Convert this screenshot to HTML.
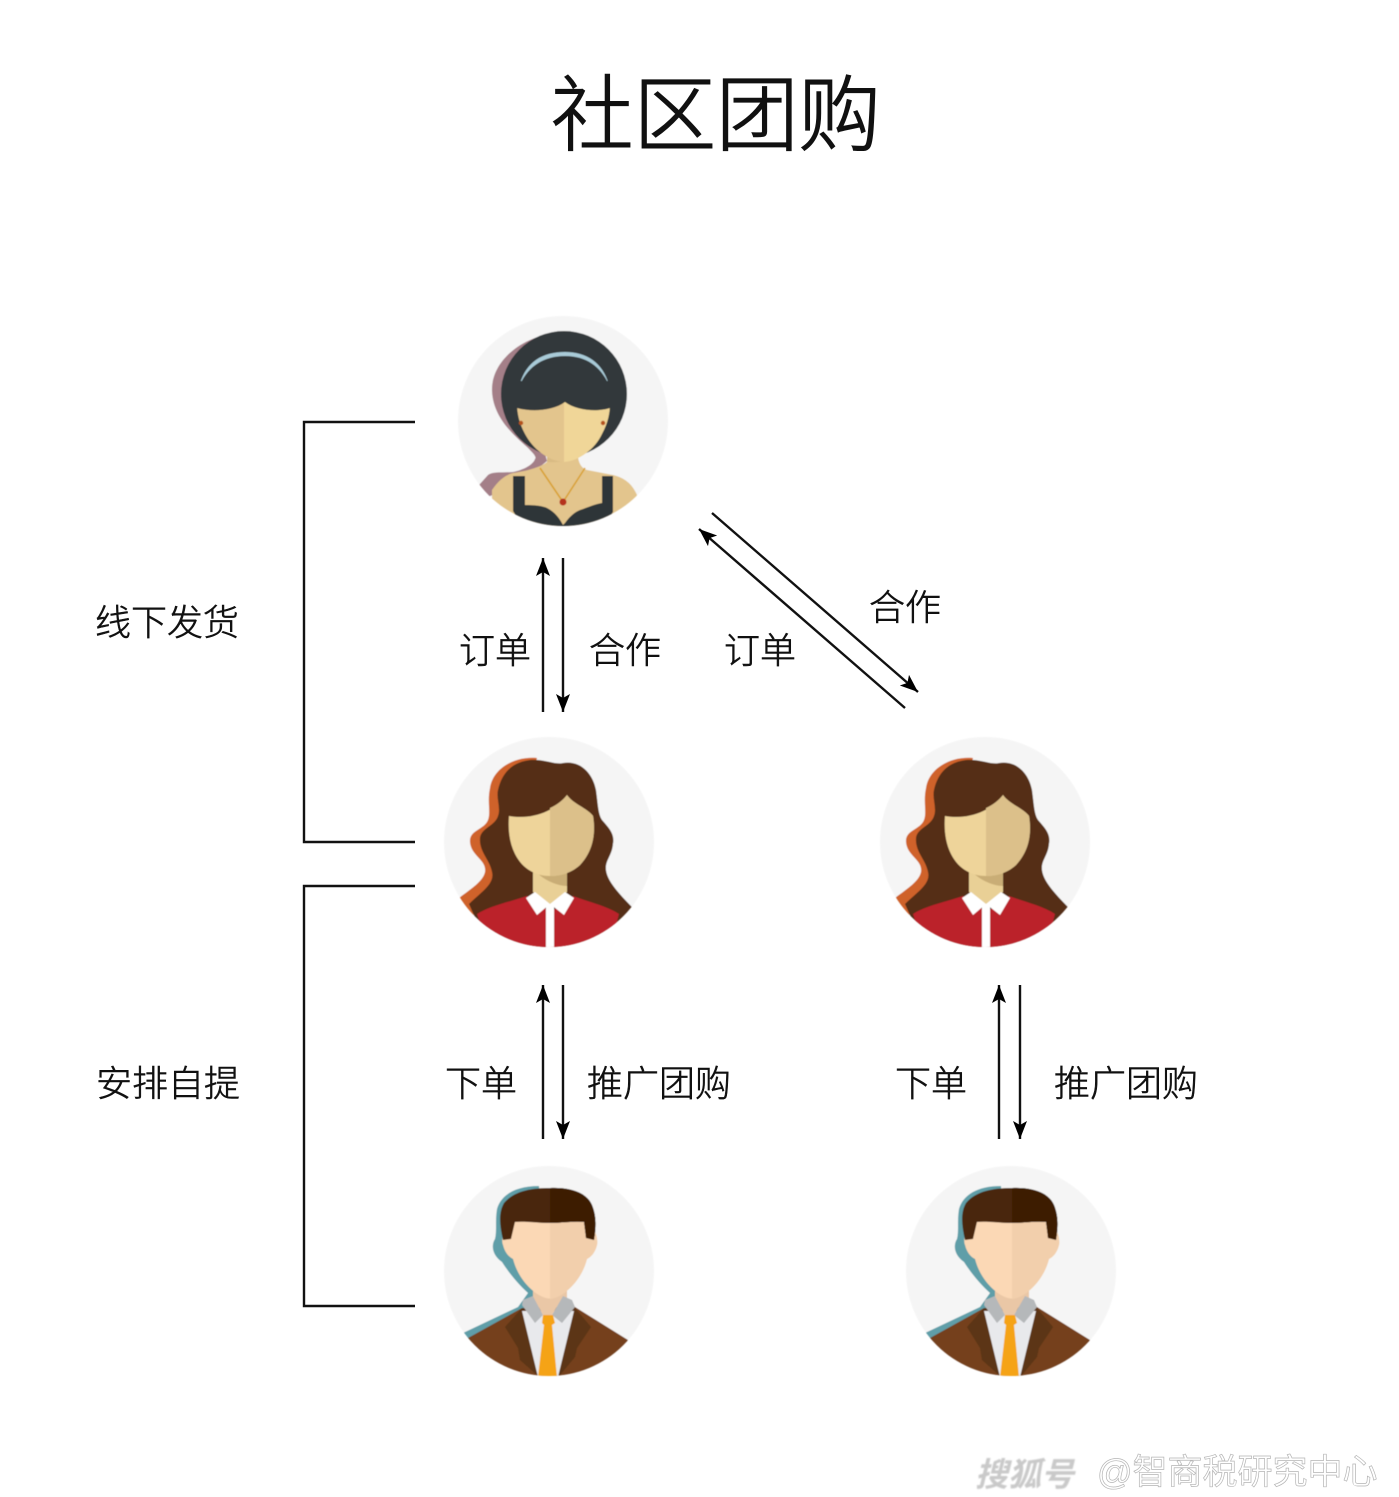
<!DOCTYPE html>
<html><head><meta charset="utf-8"><style>
html,body{margin:0;padding:0;background:#fff}
svg{display:block}
text{font-family:"Liberation Sans","Noto Sans CJK SC",sans-serif;fill:#111}
.l{font-size:36px;font-weight:300;stroke:#111;stroke-width:.55px}
</style></head><body>
<svg width="1399" height="1497" viewBox="0 0 1399 1497" xmlns="http://www.w3.org/2000/svg">
<defs>
<clipPath id="c"><circle cx="0" cy="0" r="105"/></clipPath>
<marker id="a" markerWidth="20" markerHeight="16" refX="18" refY="8" orient="auto" markerUnits="userSpaceOnUse"><path d="M0,1 L18,8 L0,15 L4,8 Z" fill="#000"/></marker>
<filter id="b" x="-5%" y="-5%" width="110%" height="110%"><feGaussianBlur stdDeviation="0.6"/></filter>
<g id="w1" filter="url(#b)"><circle r="105" fill="#f5f5f5"/><g clip-path="url(#c)">
<path d="M-10,-88 C-45,-82 -72,-58 -71,-30 C-70,-5 -52,12 -36,26 C-30,32 -26,36 -28,38 C-30,44 -40,49 -50,51 C-60,52 -70,50 -75,54 L-84,64 L-75,76 L-40,60 L-16,40 L-20,25 Z" fill="#a47f88"/>
<circle cx="1" cy="-27" r="63" fill="#32373b"/>
<path d="M-62,-25 C-58,-10 -45,10 -32,24 L36,22 C50,10 60,-10 63,-25 Z" fill="#32373b"/>
<path d="M-44,-34 C-38,-58 -22,-69 2,-69 C24,-69 40,-58 46,-36 C38,-54 24,-65 2,-65 C-20,-65 -36,-54 -44,-34 Z" fill="#a9cbd8"/>
<path d="M-71,110 L-71,69 C-65,60 -58,54 -50,52 C-36,50 -22,46 -16,41 L-16,30 L15,30 L15,36 C16,44 20,48 24,49 L50,54 C58,56 68,60 74,74 L60,110 Z" fill="#e3c58d"/>
<path d="M-16,30 L15,30 L15,36 C8,40 -8,42 -16,41 Z" fill="#d9bb84"/>
<path d="M-50,55 L-38,55 L-38,84 C-28,84 -20,85 -16,87 C-8,91 -3,98 0,104 L2,102 C7,95 12,91 17,89 C26,86 32,83 39,82 L39,55 L50,55 L50,91 L40,106 L-40,106 L-50,90 Z" fill="#2f3437"/>
<path d="M-23,47 L0,81 L22,47" fill="none" stroke="#d9a233" stroke-width="1.6"/>
<circle cx="0" cy="81" r="3.5" fill="#b5321e"/>
<path d="M-46,-18 L1,-20 L1,41 C-15,40 -30,28 -38,13 C-44,2 -46,-8 -46,-18 Z" fill="#e3c58d"/>
<path d="M1,-20 L47,-18 C47,-8 45,2 39,13 C32,28 16,40 1,41 Z" fill="#f0d698"/>
<path d="M-46,-13 C-47,-22 -47,-30 -46,-40 L48,-40 C48,-30 48,-22 47,-13 C35,-9 14,-10 2,-19 C-10,-10 -32,-9 -46,-13 Z" fill="#32373b"/>
<circle cx="-42" cy="2" r="2.2" fill="#b5531e"/><circle cx="40" cy="2" r="2.2" fill="#b5531e"/>
</g></g>
<g id="w2" filter="url(#b)"><circle r="105" fill="#f5f5f5"/><g clip-path="url(#c)">
<path d="M-12,-84 C-34,-86 -56,-74 -59,-54 C-62,-40 -58,-30 -61,-22 C-65,-12 -80,-12 -79,0 C-78,14 -62,18 -64,30 C-66,40 -80,48 -90,56 L-76,74 L-30,0 Z" fill="#cf622a"/>
<path d="M-19,-82 C-4,-83 6,-77 14,-79 C32,-82 44,-68 47,-52 C49,-38 49,-28 53,-22 C60,-14 66,-8 64,2 C63,14 56,18 57,28 C58,38 68,50 84,66 L60,110 L-60,110 L-72,80 L-80,62 C-68,50 -54,42 -57,30 C-59,18 -70,10 -69,-4 C-68,-14 -54,-16 -51,-26 C-48,-34 -53,-44 -51,-52 C-47,-70 -36,-80 -19,-82 Z" fill="#542e16"/>
<path d="M-16,24 L18,24 L18,50 L2,64 L-16,50 Z" fill="#e9d096"/>
<path d="M-16,27 L18,27 L18,44 C8,44 -6,38 -16,27 Z" fill="#c9ad76"/>
<path d="M-40,-26 C-18,-22 6,-30 18,-47 C24,-38 38,-34 44,-26 C47,-6 43,10 31,23 C21,32 10,34 1,34 C-12,34 -26,28 -34,12 C-40,0 -41,-14 -40,-26 Z" fill="#eed49a"/>
<path d="M1,-34 C8,-37 14,-42 18,-47 C24,-38 38,-34 44,-26 C47,-6 43,10 31,23 C21,32 10,34 1,34 Z" fill="#dcc08a"/>
<path d="M-72,72 C-60,64 -40,60 -22,54 L2,70 L24,54 C40,60 58,64 70,72 L60,110 L-60,110 Z" fill="#bb2029"/>
<rect x="-3" y="62" width="8" height="45" fill="#fff"/>
<path d="M-23,56 L-14,50 L1,62 L-12,73 Z M25,56 L16,50 L1,62 L15,73 Z" fill="#fff"/>
</g></g>
<g id="m" filter="url(#b)"><circle r="105" fill="#f5f5f5"/><g clip-path="url(#c)">
<path d="M-10,-85 C-34,-85 -48,-76 -52,-62 C-54,-50 -52,-40 -54,-32 C-58,-26 -57,-16 -47,-9 C-40,2 -30,14 -21,22 L-31,36 L-86,62 L-80,70 L0,60 Z" fill="#5f9ea8"/>
<path d="M-16,20 L18,20 L18,34 L1,46 L-16,34 Z" fill="#eac7a6"/>
<path d="M-81,67 L-27,37 L26,36 L79,69 L60,110 L-60,110 Z" fill="#74401a"/>
<path d="M-27,37 L-44,56 L-31,77 L-29,89 L-12,104 L11,104 L26,86 L28,77 L42,56 L26,37 Z" fill="#5c3517"/>
<path d="M-27,40 L25,40 L9,106 L-11,106 Z" fill="#e8e9ec"/>
<path d="M-27,34 L-26,29 L-16,25 L-6,44 L-14,52 Z M26,36 L23,29 L14,25 L3,44 L13,52 Z" fill="#b5b8ba"/>
<path d="M-16,25 C-8,32 8,32 14,25 L3,44 L-6,44 Z" fill="#eac7a6"/>
<path d="M-6,44 L4,44 L6,52 L3,54 L8,106 L-11,106 L-5,54 L-7,52 Z" fill="#f5a317"/>
<path d="M-34,-50 C-47,-44 -48,-30 -46,-26 C-44,-18 -40,-14 -36,-12 C-32,4 -20,20 -6,26 C-2,28 4,28 8,26 C22,20 34,4 38,-12 C42,-14 46,-18 48,-26 C49,-30 48,-44 36,-50 Z" fill="#fbd8b5"/>
<path d="M1,-50 L36,-50 C48,-44 49,-30 48,-26 C46,-18 42,-14 38,-12 C34,4 22,20 8,26 C5,27 3,28 1,28 Z" fill="#f2cfac"/>
<path d="M-46,-31 C-49,-44 -51,-58 -45,-68 C-35,-80 -18,-83 1,-83 C22,-84 38,-78 43,-66 C48,-54 47,-42 45,-31 L37,-33 L35,-49 C24,-50 12,-48 1,-48 C-12,-48 -24,-50 -34,-49 L-38,-32 Z" fill="#4a2708"/>
<path d="M1,-83 C22,-84 38,-78 43,-66 C48,-54 47,-42 45,-31 L37,-33 L35,-49 C24,-50 12,-48 1,-48 Z" fill="#3d1f05"/>
</g></g>
</defs>
<rect width="1399" height="1497" fill="#fff"/>

<text x="551" y="144" font-size="82.5" style="font-weight:300;stroke:#111;stroke-width:1.3px">社区团购</text>

<use href="#w1" x="563" y="421"/>
<use href="#w2" x="549" y="842"/>
<use href="#w2" x="985" y="842"/>
<use href="#m" x="549" y="1271"/>
<use href="#m" x="1011" y="1271"/>

<g fill="none" stroke="#111" stroke-width="2.4">
<path d="M415,422 H304 V842 H415"/>
<path d="M415,886 H304 V1306 H415"/>
<path d="M543,712 V558" marker-end="url(#a)"/>
<path d="M563,558 V712" marker-end="url(#a)"/>
<path d="M543,1139 V985" marker-end="url(#a)"/>
<path d="M563,985 V1139" marker-end="url(#a)"/>
<path d="M999,1139 V985" marker-end="url(#a)"/>
<path d="M1020,985 V1139" marker-end="url(#a)"/>
<path d="M905,708 L699,529" marker-end="url(#a)"/>
<path d="M712,513 L918,692" marker-end="url(#a)"/>
</g>

<text class="l" x="95" y="635">线下发货</text>
<text class="l" x="96" y="1096">安排自提</text>
<text class="l" x="459" y="663">订单</text>
<text class="l" x="589" y="663">合作</text>
<text class="l" x="724" y="663">订单</text>
<text class="l" x="869" y="620">合作</text>
<text class="l" x="445" y="1096">下单</text>
<text class="l" x="587" y="1096">推广团购</text>
<text class="l" x="895" y="1096">下单</text>
<text class="l" x="1054" y="1096">推广团购</text>

<text x="975" y="1486" font-size="33" font-weight="700" font-style="italic" style="fill:#c9c9c9;filter:blur(.8px)">搜狐号</text>
<text x="1097" y="1484" font-size="35" style="fill:#fff;stroke:#b5b5b5;stroke-width:.7px">@智商税研究中心</text>
</svg>
</body></html>
